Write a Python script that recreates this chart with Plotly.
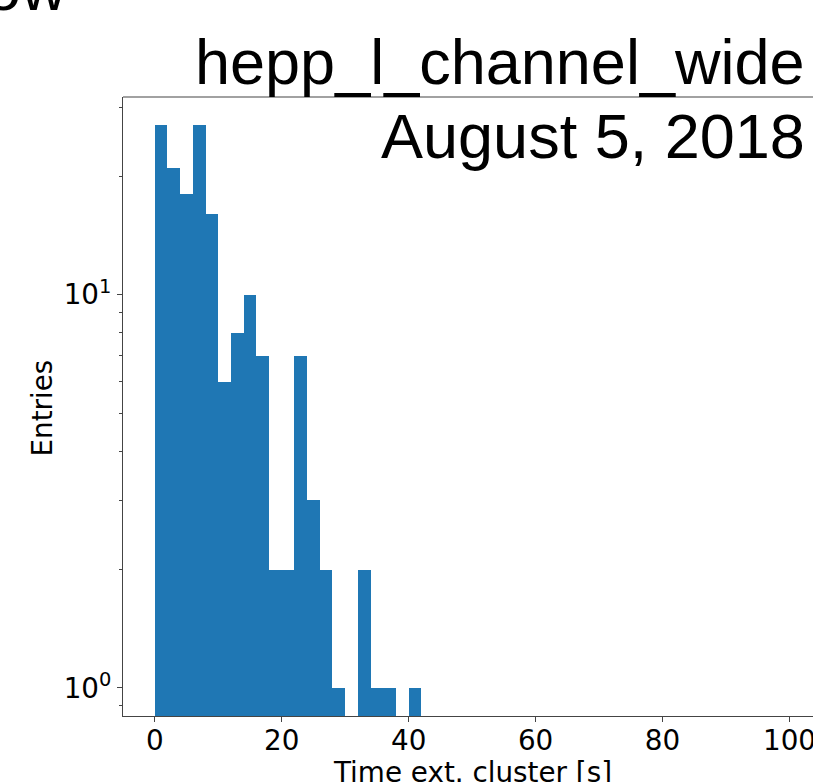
import plotly.graph_objects as go

# ---- data ----
bin_edges = [2 * i for i in range(51)]  # 0..100, width 2
counts = [27, 21, 18, 27, 16, 6, 8, 10, 7, 2,
          2, 7, 3, 2, 1, 0, 2, 1, 1, 0,
          1, 0, 0, 0, 0, 0, 0, 0, 0, 0,
          0, 0, 0, 0, 0, 0, 0, 0, 0, 0,
          0, 0, 0, 0, 0, 0, 0, 0, 0, 0]
x_ticks = [0, 20, 40, 60, 80, 100]
y_major = [1, 10]
y_major_text = ["10<sup>0</sup>", "10<sup>1</sup>"]
y_minor = [0.9, 2, 3, 4, 5, 6, 7, 8, 9, 20, 30]
title_text = "hepp_l_channel_wide"
date_text = "August 5, 2018"
cut_text = "ow"
x_label = "Time ext. cluster [s]"
y_label = "Entries"

lefts = bin_edges[:-1]
widths = [bin_edges[i + 1] - bin_edges[i] for i in range(len(lefts))]
yvals = [c if c > 0 else None for c in counts]

W, H = 813, 782
L, R, T, B = 123, 0, 97, 66
pw, ph = W - L - R, H - T - B

def px(x):
    return (x - L) / pw

def py(y):
    return (H - B - y) / ph

tick_font = dict(family="DejaVu Sans", size=27.8, color="black")
big_font = dict(family="Liberation Sans, Arial", size=63, color="black")
spine = "#444444"

fig = go.Figure()
fig.add_trace(go.Bar(x=lefts, y=yvals, width=widths, offset=0,
                     marker=dict(color="#1f77b4", line=dict(width=0)),
                     showlegend=False))

fig.update_layout(
    width=W, height=H,
    margin=dict(l=L, r=R, t=T, b=B),
    paper_bgcolor="white", plot_bgcolor="white",
    bargap=0,
    xaxis=dict(range=[-5, 103.7], tickvals=x_ticks, ticks="outside", ticklen=5,
               tickwidth=1.1, tickcolor=spine, showline=True, linecolor=spine,
               linewidth=1.1, showgrid=False, zeroline=False, tickfont=tick_font,
               automargin=False, ticklabeloverflow="allow", ticklabelstandoff=-5),
    yaxis=dict(type="log", range=[-0.0716, 1.503], tickvals=y_major,
               ticktext=y_major_text, ticks="outside", ticklen=5, tickwidth=1.1,
               tickcolor=spine, showline=True, linecolor=spine, linewidth=1.1,
               showgrid=False, zeroline=False, tickfont=tick_font, automargin=False,
               ticklabeloverflow="allow",
               minor=dict(tickvals=y_minor, ticks="outside", ticklen=3,
                          tickwidth=0.9, tickcolor=spine, showgrid=False)),
)

# top spine
fig.add_shape(type="line", xref="paper", yref="paper", x0=0, x1=1.01, y0=1, y1=1,
              line=dict(color=spine, width=1.1))

fig.add_annotation(text=title_text, xref="paper", yref="paper",
                   x=px(807), y=py(62.2), xanchor="right", yanchor="middle",
                   showarrow=False, font=big_font)
fig.add_annotation(text=date_text, xref="paper", yref="paper",
                   x=px(807), y=py(136.2), xanchor="right", yanchor="middle",
                   showarrow=False, font=big_font)
fig.add_annotation(text=cut_text, xref="paper", yref="paper",
                   x=px(69), y=py(-11.8), xanchor="right", yanchor="middle",
                   showarrow=False, font=big_font)
fig.add_annotation(text=y_label, xref="paper", yref="paper",
                   x=px(41.5), y=py(408), xanchor="center", yanchor="middle",
                   textangle=-90, showarrow=False, font=tick_font)
fig.add_annotation(text=x_label, xref="paper", yref="paper",
                   x=px(472), y=py(772.4), xanchor="center", yanchor="middle",
                   showarrow=False, font=tick_font)

fig.write_html("out.html")
